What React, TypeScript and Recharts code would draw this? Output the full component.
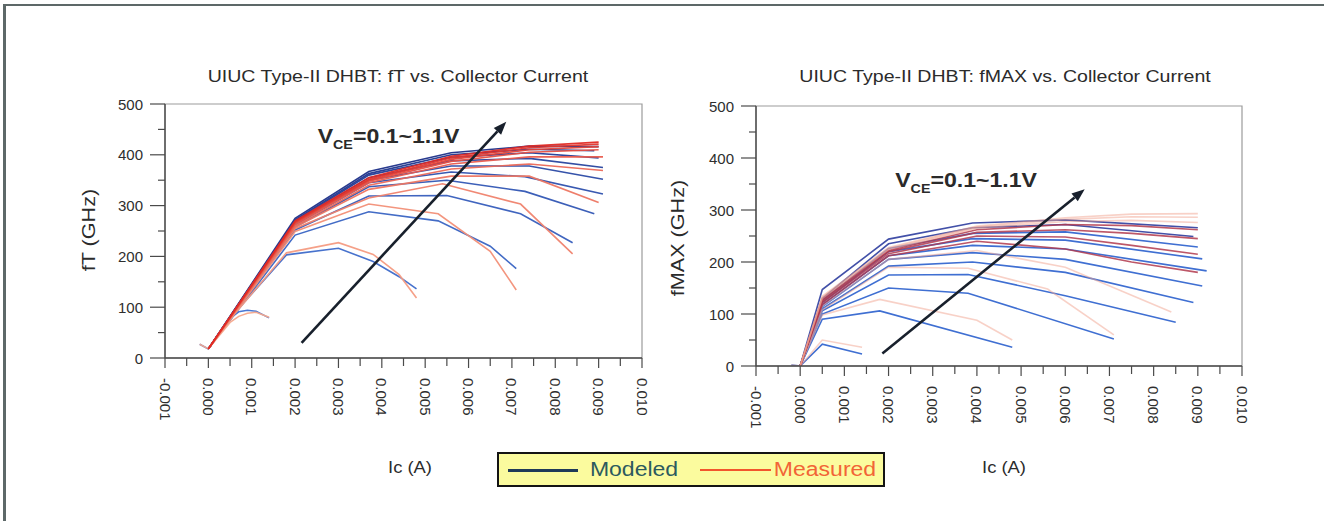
import { LineChart, Line, XAxis, YAxis, ReferenceArea, ReferenceLine, ReferenceDot } from 'recharts'

// Ic tick positions (A) and frequency ticks (GHz); odd entries are minor ticks
const X_TICKS = [
  -0.001, -0.0005, 0, 0.0005, 0.001, 0.0015, 0.002, 0.0025, 0.003, 0.0035, 0.004, 0.0045,
  0.005, 0.0055, 0.006, 0.0065, 0.007, 0.0075, 0.008, 0.0085, 0.009, 0.0095, 0.01,
]
const Y_TICKS = [0, 50, 100, 150, 200, 250, 300, 350, 400, 450, 500]

// fT curves, one per VCE step (0.1 V .. 1.1 V), points are [Ic (A), fT (GHz)]
const FT_MODELED = [
  [[-0.0002, 27], [0, 18], [0.0005, 78], [0.0007, 91], [0.0009, 94], [0.0011, 92], [0.0014, 79]],
  [[0, 18], [0.0006, 88], [0.0018, 203], [0.003, 216], [0.0038, 190], [0.0044, 160], [0.0048, 136]],
  [[0, 18], [0.002, 242], [0.0037, 288], [0.0053, 270], [0.0065, 220], [0.0071, 176]],
  [[0, 18], [0.002, 252], [0.0037, 319], [0.0055, 320], [0.0072, 284], [0.0084, 227]],
  [[0, 18], [0.002, 258], [0.0037, 337], [0.0055, 350], [0.0073, 328], [0.0089, 284]],
  [[0, 18], [0.002, 262], [0.0037, 345], [0.0056, 366], [0.0073, 357], [0.0091, 323]],
  [[0, 18], [0.002, 265], [0.0037, 350], [0.0056, 378], [0.0074, 378], [0.0091, 352]],
  [[0, 18], [0.002, 268], [0.0037, 355], [0.0056, 388], [0.0074, 393], [0.0091, 375]],
  [[0, 18], [0.002, 270], [0.0037, 360], [0.0056, 395], [0.0074, 404], [0.009, 394]],
  [[0, 18], [0.002, 272], [0.0037, 363], [0.0056, 400], [0.0074, 411], [0.0089, 408]],
  [[0, 18], [0.002, 275], [0.0037, 367], [0.0056, 404], [0.0074, 417], [0.009, 416]],
]
const FT_MEASURED = [
  [[-0.0002, 27], [0, 18], [0.0005, 70], [0.0007, 82], [0.0009, 88], [0.0011, 90], [0.0014, 80]],
  [[0, 18], [0.0006, 86], [0.0018, 207], [0.003, 227], [0.0038, 204], [0.0044, 164], [0.0048, 118]],
  [[0, 18], [0.002, 249], [0.0037, 303], [0.0053, 284], [0.0065, 210], [0.0071, 134]],
  [[0, 18], [0.002, 255], [0.0037, 315], [0.0054, 343], [0.0072, 303], [0.0084, 205]],
  [[0, 18], [0.002, 258], [0.0037, 332], [0.0056, 358], [0.0074, 358], [0.009, 306]],
  [[0, 18], [0.002, 260], [0.0037, 340], [0.0056, 372], [0.0074, 382], [0.0091, 369]],
  [[0, 18], [0.002, 263], [0.0037, 345], [0.0056, 382], [0.0074, 396], [0.0091, 396]],
  [[0, 18], [0.002, 265], [0.0037, 348], [0.0056, 387], [0.0074, 405], [0.009, 410]],
  [[0, 18], [0.002, 267], [0.0037, 350], [0.0056, 391], [0.0074, 410], [0.009, 416]],
  [[0, 18], [0.002, 268], [0.0037, 352], [0.0056, 394], [0.0074, 414], [0.009, 421]],
  [[0, 18], [0.002, 270], [0.0037, 355], [0.0056, 397], [0.0074, 417], [0.009, 425]],
]

// fMAX curves, same VCE steps, points are [Ic (A), fMAX (GHz)]
const FMAX_MODELED = [
  [[-0.0002, 2], [0, 0], [0.0005, 42], [0.0014, 23]],
  [[0, 0], [0.0005, 90], [0.0018, 106], [0.0048, 36]],
  [[0, 0], [0.0005, 100], [0.002, 150], [0.0038, 140], [0.0071, 52]],
  [[0, 0], [0.0005, 106], [0.002, 175], [0.0038, 176], [0.006, 135], [0.0085, 84]],
  [[0, 0], [0.0005, 110], [0.002, 192], [0.0039, 200], [0.006, 180], [0.0089, 122]],
  [[0, 0], [0.0005, 114], [0.002, 205], [0.0039, 218], [0.006, 205], [0.0091, 154]],
  [[0, 0], [0.0005, 118], [0.002, 212], [0.0039, 232], [0.006, 225], [0.0092, 183]],
  [[0, 0], [0.0005, 122], [0.002, 220], [0.0039, 245], [0.006, 242], [0.0091, 206]],
  [[0, 0], [0.0005, 126], [0.002, 226], [0.0039, 255], [0.006, 258], [0.009, 229]],
  [[0, 0], [0.0005, 130], [0.002, 235], [0.0039, 266], [0.006, 272], [0.0089, 249]],
  [[0, 0], [0.0005, 147], [0.002, 244], [0.0039, 275], [0.006, 281], [0.009, 266]],
]
const FMAX_MEASURED = [
  [[-0.0002, 2], [0, 0], [0.0005, 50], [0.0014, 36]],
  [[0, 0], [0.0005, 98], [0.0018, 128], [0.004, 88], [0.0048, 50]],
  [[0, 0], [0.0005, 108], [0.002, 190], [0.0038, 188], [0.0056, 148], [0.0071, 60]],
  [[0, 0], [0.0005, 115], [0.002, 205], [0.004, 222], [0.006, 190], [0.0084, 104]],
  [[0, 0], [0.0005, 118], [0.002, 212], [0.004, 240], [0.006, 225], [0.0075, 200], [0.009, 180]],
  [[0, 0], [0.0005, 122], [0.002, 216], [0.004, 250], [0.006, 248], [0.0075, 232], [0.009, 215]],
  [[0, 0], [0.0005, 125], [0.002, 220], [0.004, 257], [0.006, 262], [0.0075, 255], [0.009, 245]],
  [[0, 0], [0.0005, 128], [0.002, 222], [0.004, 262], [0.006, 272], [0.0075, 270], [0.009, 262]],
  [[0, 0], [0.0005, 130], [0.002, 224], [0.004, 265], [0.006, 278], [0.0075, 280], [0.009, 276]],
  [[0, 0], [0.0005, 132], [0.002, 226], [0.004, 267], [0.006, 282], [0.0075, 287], [0.009, 286]],
  [[0, 0], [0.0005, 134], [0.002, 228], [0.004, 269], [0.006, 285], [0.0075, 292], [0.009, 293]],
]

// VCE sweep arrows and their label anchors, [Ic (A), GHz]
const FT_ARROW = [[0.00215, 30], [0.00687, 465]]
const FMAX_ARROW = [[0.00186, 24], [0.00644, 340]]
const FT_NOTE = [0.00252, 423]
const FMAX_NOTE = [0.00215, 345]

const FONT = '"Liberation Sans", Arial, sans-serif'
const AXIS = '#4a4a4a'
const TICK_TEXT = '#2e2e2e'

const toRows = (pts: number[][]) => pts.map(([ic, f]) => ({ ic, f }))

function mix(a: string, b: string, t: number) {
  const pa = [1, 3, 5].map((i) => parseInt(a.slice(i, i + 2), 16))
  const pb = [1, 3, 5].map((i) => parseInt(b.slice(i, i + 2), 16))
  return '#' + pa.map((v, i) => Math.round(v + (pb[i] - v) * t).toString(16).padStart(2, '0')).join('')
}

function XTick({ x, y, payload }: any) {
  const v = payload.value
  const major = Math.abs(Math.round(v * 10000)) % 10 === 0
  const ty = y + 20
  return (
    <g>
      <line x1={x} y1={y} x2={x} y2={y + (major ? 10 : 8)} stroke={AXIS} strokeWidth={1.2} />
      {major && (
        <text
          x={x}
          y={ty}
          transform={`rotate(90 ${x} ${ty})`}
          textAnchor="start"
          dominantBaseline="central"
          fontFamily={FONT}
          fontSize={15}
          fill={TICK_TEXT}
        >
          {v.toFixed(3)}
        </text>
      )}
    </g>
  )
}

function YTick({ x, y, payload }: any) {
  const v = payload.value
  const major = v % 100 === 0
  return (
    <g>
      <line x1={x - (major ? 15 : 7)} y1={y} x2={x} y2={y} stroke={AXIS} strokeWidth={1.2} />
      {major && (
        <text x={x - 22} y={y} textAnchor="end" dominantBaseline="central" fontFamily={FONT} fontSize={15} fill={TICK_TEXT}>
          {v}
        </text>
      )}
    </g>
  )
}

function Arrow({ x1, y1, x2, y2 }: any) {
  const a = Math.atan2(y2 - y1, x2 - x1)
  const len = 13
  const w = 5
  const bx = x2 - len * Math.cos(a)
  const by = y2 - len * Math.sin(a)
  const pts = [
    [x2, y2],
    [bx + w * Math.sin(a), by - w * Math.cos(a)],
    [bx - w * Math.sin(a), by + w * Math.cos(a)],
  ]
  return (
    <g>
      <line x1={x1} y1={y1} x2={bx} y2={by} stroke="#18202c" strokeWidth={2.6} />
      <polygon points={pts.map((p) => p.join(',')).join(' ')} fill="#18202c" />
    </g>
  )
}

function VceNote({ cx, cy }: any) {
  return (
    <g transform={`translate(${cx} ${cy}) scale(1.1 1)`}>
      <text x={0} y={0} fontFamily={FONT} fontWeight="bold" fontSize={21} fill="#2a2a2a">
        V
        <tspan fontSize={13} dy={6}>CE</tspan>
        <tspan dy={-6}>=0.1~1.1V</tspan>
      </text>
    </g>
  )
}

interface PanelProps {
  left: number
  yWidth: number
  right: number
  top: number
  bottom: number
  modeled: number[][][]
  measured: number[][][]
  modeledColor: (i: number) => string
  measuredColor: (i: number) => string
  measuredOpacity: (i: number) => number
  arrow: number[][]
  note: number[]
}

function Panel(p: PanelProps) {
  return (
    <div style={{ position: 'absolute', left: p.left, top: 0 }}>
      <LineChart width={662} height={440} margin={{ top: p.top, right: p.right, bottom: p.bottom, left: 0 }}>
        <XAxis
          dataKey="ic"
          type="number"
          domain={[-0.001, 0.01]}
          allowDataOverflow
          ticks={X_TICKS}
          interval={0}
          tickSize={0}
          tickMargin={0}
          tickLine={false}
          tick={<XTick />}
          height={70}
          axisLine={{ stroke: AXIS, strokeWidth: 1.4 }}
        />
        <YAxis
          type="number"
          domain={[0, 500]}
          allowDataOverflow
          ticks={Y_TICKS}
          interval={0}
          tickSize={0}
          tickMargin={0}
          tickLine={false}
          tick={<YTick />}
          width={p.yWidth}
          axisLine={{ stroke: AXIS, strokeWidth: 1.4 }}
        />
        <ReferenceArea x1={-0.001} x2={0.01} y1={0} y2={500} fill="none" stroke="#9c9c9c" strokeWidth={1.2} />
        {p.modeled.map((c, i) => (
          <Line
            key={`mod-${i}`}
            data={toRows(c)}
            dataKey="f"
            type="linear"
            stroke={p.modeledColor(i)}
            strokeWidth={1.6}
            dot={false}
            activeDot={false}
            isAnimationActive={false}
          />
        ))}
        {p.measured.map((c, i) => (
          <Line
            key={`meas-${i}`}
            data={toRows(c)}
            dataKey="f"
            type="linear"
            stroke={p.measuredColor(i)}
            strokeOpacity={p.measuredOpacity(i)}
            strokeWidth={1.6}
            dot={false}
            activeDot={false}
            isAnimationActive={false}
          />
        ))}
        <ReferenceLine
          segment={[
            { x: p.arrow[0][0], y: p.arrow[0][1] },
            { x: p.arrow[1][0], y: p.arrow[1][1] },
          ]}
          shape={(s: any) => <Arrow {...s} />}
        />
        <ReferenceDot x={p.note[0]} y={p.note[1]} r={0} shape={(s: any) => <VceNote {...s} />} />
      </LineChart>
    </div>
  )
}

const textStyle = (x: number, y: number, size: number, rotate = 0, sx = 1.15): React.CSSProperties => ({
  position: 'absolute',
  left: x,
  top: y,
  transform: `translate(-50%, -50%) rotate(${rotate}deg) scale(${sx}, 1)`,
  whiteSpace: 'nowrap',
  fontFamily: FONT,
  fontSize: size,
  lineHeight: 1,
  color: '#2b2b2b',
})

export default function App() {
  return (
    <div style={{ position: 'absolute', left: 0, top: 0, width: 1324, height: 521, background: '#fff', overflow: 'hidden' }}>
      <div
        style={{
          position: 'absolute',
          left: 3,
          top: 4,
          width: 1330,
          height: 530,
          borderTop: '2px solid #5d6868',
          borderLeft: '3px solid #5d6868',
        }}
      />
      <div style={textStyle(398, 76, 17)}>UIUC Type-II DHBT: fT vs. Collector Current</div>
      <div style={textStyle(1005, 76, 17)}>UIUC Type-II DHBT: fMAX vs. Collector Current</div>
      <div style={textStyle(89, 230, 18, -90, 1.2)}>fT (GHz)</div>
      <div style={textStyle(678, 238, 18, -90, 1.2)}>fMAX (GHz)</div>
      <div style={textStyle(410, 468, 16)}>Ic (A)</div>
      <div style={textStyle(1004, 468, 16)}>Ic (A)</div>

      <Panel
        left={0}
        yWidth={165}
        right={20}
        top={104}
        bottom={12}
        modeled={FT_MODELED}
        measured={FT_MEASURED}
        modeledColor={(i) => mix('#4a78d4', '#283a8e', i / 10)}
        measuredColor={(i) => mix('#f6a88c', '#e02a24', i / 10)}
        measuredOpacity={() => 0.95}
        arrow={FT_ARROW}
        note={FT_NOTE}
      />
      <Panel
        left={662}
        yWidth={94}
        right={82}
        top={106}
        bottom={4}
        modeled={FMAX_MODELED}
        measured={FMAX_MEASURED}
        modeledColor={(i) => (i >= 9 ? '#4250a8' : '#3f6fd2')}
        measuredColor={(i) => (i >= 4 && i <= 7 ? '#b23a4e' : '#f2a490')}
        measuredOpacity={(i) => (i >= 4 && i <= 7 ? 0.85 : 0.5)}
        arrow={FMAX_ARROW}
        note={FMAX_NOTE}
      />

      {/* legend */}
      <div
        style={{
          position: 'absolute',
          left: 497,
          top: 452,
          width: 384,
          height: 31,
          border: '2px solid #141414',
          background: '#fbfb9e',
        }}
      />
      <div style={{ position: 'absolute', left: 508, top: 469, width: 70, height: 3, background: '#1f3a58' }} />
      <div style={{ ...textStyle(634, 469, 20), color: '#2c5a5e' }}>Modeled</div>
      <div style={{ position: 'absolute', left: 700, top: 469, width: 71, height: 2, background: '#f2552c' }} />
      <div style={{ ...textStyle(825, 469, 20), color: '#f26436' }}>Measured</div>
    </div>
  )
}
